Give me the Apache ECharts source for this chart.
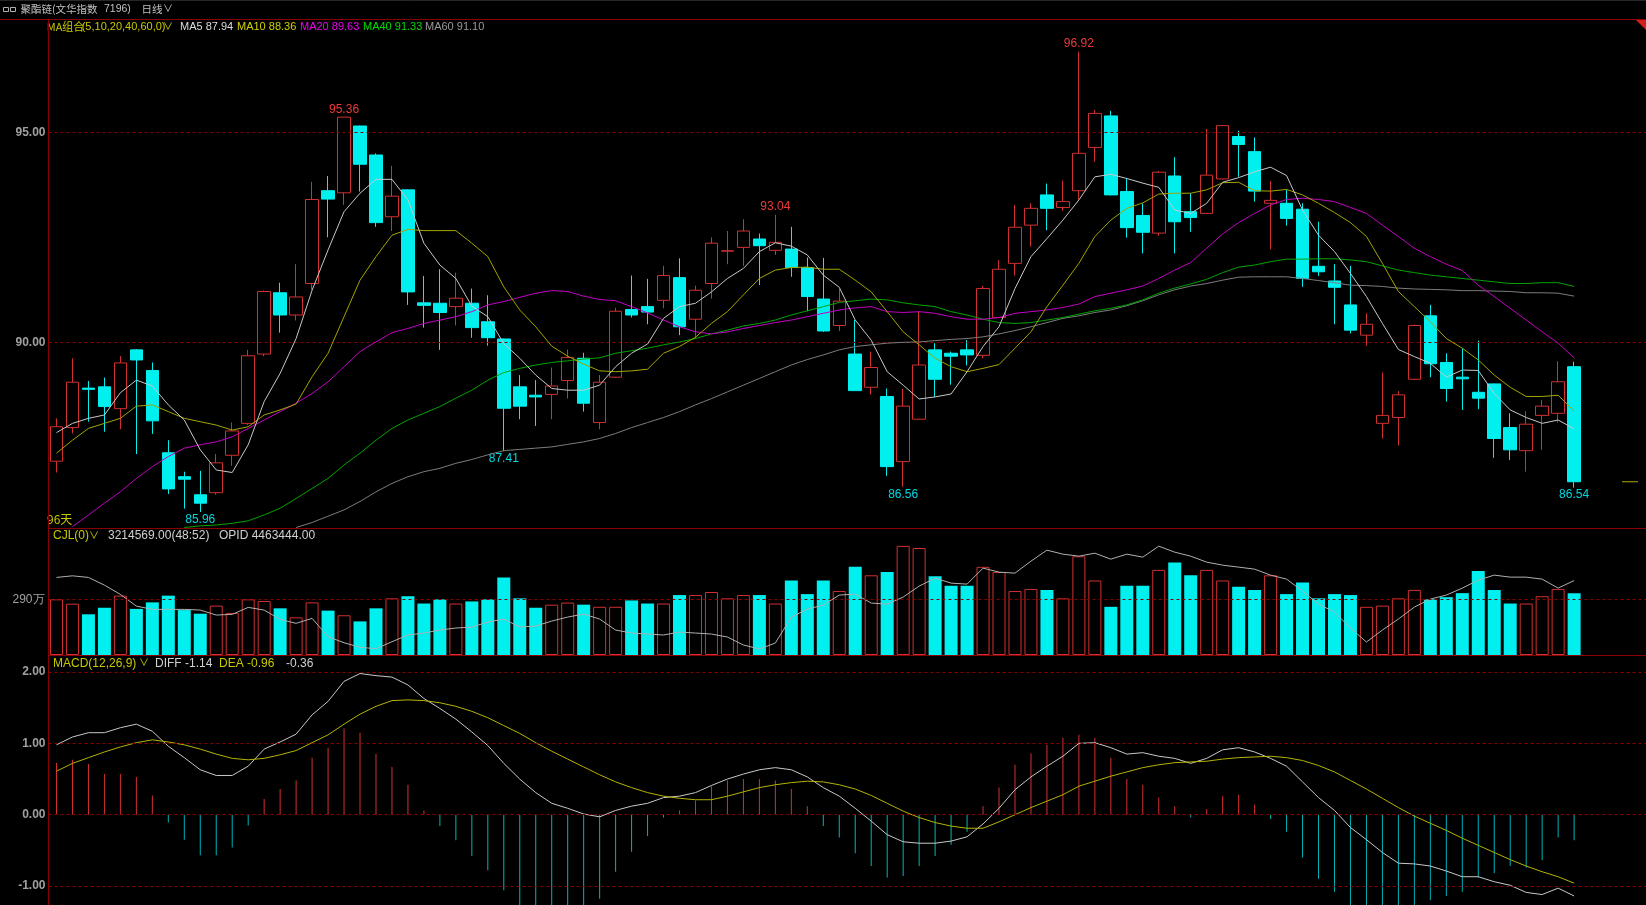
<!DOCTYPE html>
<html>
<head>
<meta charset="utf-8">
<title>聚酯链(文华指数 7196) 日线</title>
<script src="https://cdn.jsdelivr.net/npm/echarts@6/dist/echarts.min.js"></script>
<style>
html,body{margin:0;padding:0;background:#000;overflow:hidden;}
#chart{width:1646px;height:905px;}
</style>
</head>
<body>
<div id="chart"></div>
<script>
// ---------------- data ----------------
const SLOTS = 100; // 96 trading days + empty slots on the right
const categories = Array.from({length: SLOTS}, (_, i) => 'D' + (i + 1));

const opens = [87.17,87.97,88.91,88.94,88.42,89.82,89.33,87.37,86.80,86.37,
86.42,87.31,88.07,89.72,91.18,90.65,91.40,93.61,93.56,95.15,
94.46,92.99,93.63,90.94,90.93,90.85,90.93,90.49,90.08,88.94,
88.74,88.76,89.09,89.62,88.09,89.17,90.78,90.85,91.00,91.54,
90.55,91.40,92.17,92.26,92.46,92.19,92.22,91.78,91.03,90.40,
89.72,88.93,88.71,87.16,88.17,89.82,89.74,89.82,89.69,90.59,
91.88,92.79,93.51,93.21,93.61,94.64,95.39,93.59,93.02,92.60,
93.96,93.11,93.07,93.89,94.90,94.54,93.31,93.31,93.17,91.81,
91.46,90.89,90.17,88.07,88.21,89.12,90.63,89.52,89.17,88.81,
89.01,87.97,87.42,88.26,88.31,89.42];
const closes = [87.99,89.05,88.88,88.47,89.51,89.58,88.13,86.51,86.74,86.17,
87.13,87.89,89.68,91.21,90.65,91.08,93.40,93.41,95.36,94.24,
92.85,93.48,91.20,90.88,90.71,91.05,90.35,90.11,88.43,88.48,
88.70,88.96,89.64,88.55,89.05,90.74,90.65,90.72,91.59,90.37,
91.24,92.36,92.18,92.65,92.30,92.38,91.78,91.09,90.27,90.98,
88.85,89.40,87.04,88.48,89.46,89.12,89.67,89.70,91.28,91.74,
92.74,93.19,93.19,93.35,94.50,95.45,93.51,92.73,92.62,94.05,
92.87,92.97,93.98,95.16,94.71,93.60,93.38,92.95,91.52,91.68,
91.31,90.29,90.43,88.26,88.75,90.40,89.49,88.90,89.13,88.67,
87.71,87.44,88.05,88.48,89.06,86.68];
const lows = [86.90,87.83,88.11,87.87,87.93,87.34,87.82,86.39,86.04,85.96,
86.37,87.06,88.03,89.67,90.23,90.52,91.25,92.50,93.27,93.59,
92.75,92.65,90.89,90.35,89.82,90.40,90.11,89.92,87.41,88.17,
88.01,88.17,88.66,88.35,87.93,89.15,90.59,90.43,90.81,90.17,
90.09,91.04,91.86,91.82,91.36,92.08,91.56,90.74,90.25,90.27,
88.84,88.76,86.82,86.56,88.16,88.70,88.99,89.45,89.62,90.58,
91.59,92.28,92.67,93.13,93.40,94.30,93.50,92.49,92.12,92.54,
92.12,92.63,93.06,93.88,93.94,93.35,92.21,92.78,91.32,91.58,
90.43,90.21,89.92,87.71,87.54,89.10,89.17,88.59,88.39,88.41,
87.25,87.20,86.92,87.44,88.09,86.54];
const highs = [88.19,89.62,89.08,89.16,89.67,89.84,89.52,87.67,86.92,86.94,
87.34,88.09,89.82,91.23,91.42,91.86,93.82,93.96,95.36,95.16,
94.50,94.20,93.64,91.58,91.74,91.66,91.28,91.12,90.09,89.22,
89.10,89.40,89.83,89.75,89.22,90.82,91.59,91.51,91.82,92.00,
91.35,92.50,92.65,92.93,92.59,93.04,92.75,92.02,92.01,91.27,
90.53,89.78,88.90,88.89,90.73,89.98,89.78,90.05,91.34,91.96,
93.27,93.31,93.78,93.85,96.92,95.53,95.51,93.90,93.31,94.08,
94.41,93.55,95.08,95.17,95.04,94.88,93.84,93.63,93.31,92.87,
91.86,91.82,90.69,89.28,88.84,90.42,90.89,89.74,89.86,90.04,
89.02,88.31,88.36,88.63,89.55,89.54];

const ma5 = [87.85,88.07,88.19,88.27,88.80,89.10,88.96,88.51,88.15,87.44,
86.96,86.90,87.56,88.59,89.26,90.09,91.24,92.20,93.11,93.55,
93.88,93.88,93.39,92.36,91.84,91.52,90.86,90.61,89.97,89.62,
89.22,88.90,88.86,88.86,88.98,89.42,89.74,89.96,90.57,90.85,
90.93,91.20,91.52,91.76,92.16,92.37,92.29,92.08,91.60,91.31,
90.53,90.05,89.30,88.98,88.65,88.70,88.77,89.30,89.90,90.37,
91.28,92.04,92.47,92.91,93.39,93.94,94.00,93.90,93.79,93.69,
93.15,93.07,93.31,93.81,93.92,94.06,94.17,93.97,93.15,92.55,
92.16,91.64,91.09,90.45,89.83,89.66,89.50,89.17,89.34,89.33,
88.78,88.39,88.21,88.07,88.15,87.94];
const ma10 = [87.36,87.67,87.95,88.07,88.19,88.48,88.51,88.35,88.19,88.11,
88.03,87.91,87.99,88.27,88.39,88.53,89.18,89.74,90.61,91.48,
92.04,92.55,92.69,92.66,92.66,92.66,92.36,92.04,91.32,90.77,
90.37,89.91,89.67,89.48,89.32,89.30,89.32,89.36,89.74,89.90,
90.12,90.45,90.73,91.13,91.52,91.72,91.78,91.79,91.74,91.74,
91.48,91.20,90.73,90.25,89.94,89.62,89.42,89.30,89.38,89.47,
89.86,90.25,90.85,91.36,91.88,92.52,92.91,93.19,93.32,93.53,
93.55,93.55,93.63,93.80,93.81,93.61,93.60,93.64,93.51,93.31,
93.09,92.85,92.52,91.88,91.21,90.85,90.49,90.09,89.86,89.58,
89.22,88.93,88.71,88.71,88.74,88.36];
const ma20 = ['-',85.61,85.89,86.17,86.44,86.76,87.04,87.28,87.48,87.56,
87.63,87.75,87.95,88.15,88.35,88.55,88.78,89.06,89.42,89.78,
90.01,90.23,90.33,90.45,90.53,90.61,90.73,90.89,90.97,91.07,
91.17,91.23,91.21,91.10,91.02,90.99,90.85,90.70,90.53,90.37,
90.25,90.20,90.25,90.33,90.40,90.47,90.53,90.61,90.69,90.77,
90.82,90.85,90.73,90.71,90.73,90.69,90.61,90.55,90.55,90.59,
90.69,90.73,90.77,90.83,90.91,91.09,91.17,91.25,91.34,91.52,
91.72,91.90,92.24,92.58,92.85,93.07,93.27,93.40,93.43,93.40,
93.35,93.21,93.07,92.79,92.52,92.24,92.04,91.86,91.71,91.36,
91.09,90.81,90.53,90.25,89.98,89.63];
const ma40 = ['-','-','-','-','-','-','-','-',85.59,85.63,
85.65,85.69,85.75,85.89,86.05,86.28,86.52,86.76,87.08,87.36,
87.67,87.95,88.15,88.31,88.47,88.67,88.86,89.10,89.28,89.38,
89.46,89.52,89.56,89.60,89.63,89.74,89.80,89.86,89.94,90.01,
90.09,90.20,90.29,90.39,90.45,90.53,90.65,90.75,90.85,90.95,
90.99,91.03,91.01,90.94,90.89,90.85,90.73,90.65,90.55,90.47,
90.45,90.47,90.53,90.59,90.67,90.75,90.81,90.89,91.01,91.17,
91.29,91.39,91.50,91.66,91.79,91.84,91.92,91.98,91.98,91.99,
91.99,91.96,91.92,91.82,91.72,91.66,91.60,91.56,91.52,91.48,
91.44,91.40,91.40,91.42,91.42,91.33];
const ma60 = ['-','-','-','-','-','-','-','-','-','-',
'-','-','-','-','-',85.59,85.71,85.86,86.01,86.21,
86.44,86.64,86.80,86.92,87.00,87.12,87.21,87.32,87.42,87.45,
87.48,87.51,87.57,87.63,87.71,87.83,87.97,88.09,88.21,88.35,
88.51,88.66,88.82,88.98,89.14,89.30,89.46,89.59,89.70,89.82,
89.90,89.94,89.98,90.00,90.01,90.04,90.07,90.09,90.13,90.20,
90.28,90.37,90.47,90.57,90.63,90.71,90.77,90.87,90.99,91.13,
91.25,91.34,91.40,91.48,91.55,91.56,91.56,91.56,91.52,91.47,
91.42,91.36,91.35,91.33,91.29,91.27,91.26,91.25,91.23,91.23,
91.22,91.21,91.18,91.18,91.17,91.10];

// volume in 万 (10k lots)
const volumes = [290,267,212,246,309,240,274,309,234,215,
257,219,290,281,243,196,274,231,207,175,
243,295,306,268,290,268,279,290,404,295,
246,262,273,262,251,251,284,268,268,312,
312,328,295,312,312,268,388,317,388,333,
459,415,432,568,557,410,361,361,459,432,
333,344,339,295,514,388,251,361,361,443,
481,415,443,388,355,339,415,317,377,295,
317,312,251,257,295,339,290,301,322,437,
339,268,268,306,344,321.4569];
// open interest (OPID)
const openInterest = [4483200,4493200,4483200,4435300,4377500,4304700,4284200,4284200,4284200,4279900,
4248800,4253100,4296600,4279900,4222000,4197100,4228200,4113800,4076500,4047900,
4039200,4082700,4124400,4136800,4155500,4167900,4174100,4205200,4223900,4174100,
4180400,4211400,4236300,4255000,4223900,4155500,4136800,4130600,4124400,4143000,
4136800,4130600,4111900,4062200,4037300,4074600,4236300,4286100,4311000,4373100,
4379400,4323400,4317200,4360700,4429100,4478900,4447800,4441500,4541100,4516200,
4510000,4584600,4653000,4628100,4615700,4634300,4597000,4628100,4609500,4677900,
4640600,4615700,4578400,4559700,4547300,4534800,4497500,4472600,4398000,4317200,
4267400,4167900,4080800,4155500,4223900,4298500,4348300,4373100,4416700,4466400,
4497500,4485100,4485100,4472600,4416700,4463444];

const diff = [0.98,1.09,1.15,1.15,1.22,1.27,1.17,0.96,0.80,0.63,
0.55,0.55,0.68,0.92,1.02,1.13,1.40,1.59,1.87,1.98,
1.95,1.93,1.82,1.63,1.49,1.34,1.16,0.97,0.72,0.50,
0.31,0.16,0.09,0.01,-0.03,0.06,0.12,0.16,0.24,0.26,
0.31,0.41,0.50,0.57,0.63,0.66,0.63,0.53,0.38,0.26,
0.09,-0.09,-0.28,-0.38,-0.40,-0.40,-0.37,-0.31,-0.13,0.09,
0.35,0.53,0.68,0.82,1.00,1.01,0.94,0.85,0.87,0.82,
0.79,0.72,0.79,0.91,0.94,0.88,0.79,0.68,0.46,0.24,
0.06,-0.18,-0.35,-0.53,-0.68,-0.69,-0.72,-0.79,-0.87,-0.87,
-0.94,-0.99,-1.09,-1.12,-1.03,-1.14];
const dea = [0.61,0.72,0.80,0.88,0.95,1.01,1.05,1.02,0.98,0.92,
0.85,0.79,0.77,0.79,0.84,0.90,1.01,1.12,1.27,1.41,
1.52,1.60,1.61,1.60,1.57,1.52,1.45,1.36,1.25,1.14,
1.01,0.89,0.78,0.67,0.56,0.46,0.38,0.31,0.26,0.23,
0.21,0.21,0.26,0.32,0.38,0.42,0.45,0.47,0.46,0.42,
0.36,0.27,0.16,0.05,-0.04,-0.11,-0.16,-0.19,-0.19,-0.10,
0.00,0.10,0.19,0.28,0.40,0.47,0.54,0.60,0.66,0.70,
0.73,0.74,0.75,0.78,0.80,0.81,0.82,0.80,0.76,0.69,
0.60,0.48,0.36,0.23,0.10,-0.02,-0.12,-0.22,-0.33,-0.43,
-0.53,-0.63,-0.72,-0.80,-0.87,-0.96];
const macdHist = [0.73,0.77,0.71,0.57,0.57,0.53,0.27,-0.11,-0.35,-0.57,
-0.57,-0.46,-0.15,0.22,0.36,0.48,0.80,0.94,1.21,1.15,
0.85,0.67,0.42,0.06,-0.16,-0.36,-0.58,-0.78,-1.06,-1.28,
-1.40,-1.46,-1.38,-1.32,-1.18,-0.80,-0.52,-0.30,-0.04,0.06,
0.20,0.40,0.48,0.50,0.50,0.48,0.36,0.12,-0.16,-0.32,
-0.54,-0.72,-0.88,-0.86,-0.72,-0.58,-0.42,-0.24,0.12,0.38,
0.70,0.86,0.98,1.08,1.12,1.08,0.80,0.50,0.42,0.24,
0.12,-0.04,0.08,0.26,0.28,0.14,-0.06,-0.24,-0.60,-0.90,
-1.08,-1.32,-1.42,-1.52,-1.56,-1.34,-1.20,-1.14,-1.08,-0.88,
-0.82,-0.72,-0.74,-0.64,-0.32,-0.36];

const highMarks = [18, 45, 64];
const lowMarks = [9, 28, 53, 95];
const priceTicks = [90, 95];
const volumeTicks = [290];
const macdTicks = [-1, 0, 1, 2];

// ---------------- chart ----------------
const RED = '#cf3030', CYAN = '#00f0f0', GRIDRED = '#8a0000';
const FONT = '"Liberation Sans", Arial, "Noto Sans CJK SC", sans-serif';
const CJK = '"Noto Sans CJK SC", "Liberation Sans", sans-serif';
const last = opens.length - 1;

const candleData = opens.map((o, i) => [o, closes[i], lows[i], highs[i]]);
const isUp = i => closes[i] >= opens[i];

function dashLines(vals) {
  return {
    silent: true, symbol: ['none', 'none'],
    label: {show: false},
    lineStyle: {color: GRIDRED, type: [3, 3], width: 1},
    emphasis: {disabled: true},
    data: vals.map(v => ({yAxis: v}))
  };
}
function maLine(name, data, color) {
  return {name, type: 'line', xAxisIndex: 0, yAxisIndex: 0, data: data,
    symbol: 'none', showSymbol: false, lineStyle: {color, width: 1}, z: 5, silent: true};
}
function txt(x, y, text, fill, size, family, weight) {
  return {type: 'text', x, y, silent: true, style: {text, fill,
    font: (weight || 'normal') + ' ' + size + 'px ' + (family || FONT),
    textAlign: 'left', textVerticalAlign: 'middle', align: 'left', verticalAlign: 'middle'}};
}

const chart = echarts.init(document.getElementById('chart'), null, {renderer: 'canvas'});
const L = 48.5, W = 1600;
const axisLineStyle = {show: true, onZero: false, lineStyle: {color: GRIDRED, width: 1}};

const lastLine = categories.map((c, i) => i >= SLOTS - 2 ? closes[last] : '-');

const option = {
  backgroundColor: '#000',
  animation: false,
  grid: [
    {left: L, top: 19, width: W, height: 509.5},
    {left: L, top: 528.5, width: W, height: 126.5},
    {left: L, top: 655, width: W, height: 250}
  ],
  xAxis: [0, 1, 2].map(g => ({
    type: 'category', gridIndex: g, data: categories, boundaryGap: true,
    axisLine: g < 2 ? axisLineStyle : {show: false},
    axisTick: {show: false}, axisLabel: {show: false}, splitLine: {show: false}
  })),
  yAxis: [
    {gridIndex: 0, min: 85.567, max: 97.698, axisLine: axisLineStyle, axisTick: {show: false},
      splitLine: {show: false},
      axisLabel: {customValues: priceTicks, formatter: v => v.toFixed(2), color: '#a0a0a0',
        fontSize: 12, fontWeight: 'bold', fontFamily: 'Liberation Sans', margin: 3}},
    {gridIndex: 1, min: 0, max: 658.6, axisLine: axisLineStyle, axisTick: {show: false},
      splitLine: {show: false},
      axisLabel: {customValues: volumeTicks, formatter: v => v + '万', color: '#a0a0a0',
        fontSize: 12, fontFamily: 'Liberation Sans', margin: 4}},
    {gridIndex: 1, min: 4000000, max: 4788000, show: false},
    {gridIndex: 2, min: -1.2665, max: 2.2398, axisLine: axisLineStyle, axisTick: {show: false},
      splitLine: {show: false},
      axisLabel: {customValues: macdTicks, formatter: v => v.toFixed(2), color: '#a0a0a0',
        fontSize: 12, fontWeight: 'bold', fontFamily: 'Liberation Sans', margin: 3}}
  ],
  series: [
    {
      name: 'K', type: 'candlestick', xAxisIndex: 0, yAxisIndex: 0,
      data: candleData, barWidth: 13, silent: true,
      itemStyle: {color: 'rgba(0,0,0,0)', color0: CYAN, borderColor: RED, borderColor0: CYAN, borderWidth: 1},
      markLine: dashLines(priceTicks),
      markPoint: {
        silent: true, symbol: 'rect', symbolSize: 1,
        itemStyle: {color: 'rgba(0,0,0,0)'},
        label: {show: true, fontSize: 12, fontFamily: FONT, formatter: p => Number(p.value).toFixed(2)},
        data: highMarks.map(i => ({coord: [categories[i], highs[i]], value: highs[i],
                label: {position: 'top', distance: 1, color: '#ec3a3a'}}))
          .concat(lowMarks.map(i => ({coord: [categories[i], lows[i]], value: lows[i],
                label: {position: 'bottom', distance: 1, color: '#00d8e0'}})))
      },
      z: 3
    },
    maLine('MA60', ma60, '#7c7c7c'),
    maLine('MA40', ma40, '#00a400'),
    maLine('MA20', ma20, '#c400c4'),
    maLine('MA10', ma10, '#a4a400'),
    maLine('MA5', ma5, '#c8c8c8'),
    {
      name: 'last', type: 'line', xAxisIndex: 0, yAxisIndex: 0, symbol: 'none', silent: true,
      data: lastLine, lineStyle: {color: '#a8a800', width: 1}
    },
    {
      name: 'CJL', type: 'bar', xAxisIndex: 1, yAxisIndex: 1, barWidth: 13, silent: true,
      data: volumes.map((v, i) => ({value: v, itemStyle: isUp(i)
        ? {color: 'rgba(0,0,0,0)', borderColor: RED, borderWidth: 1}
        : {color: CYAN}})),
      markLine: dashLines(volumeTicks)
    },
    {
      name: 'OPID', type: 'line', xAxisIndex: 1, yAxisIndex: 2, symbol: 'none', silent: true,
      data: openInterest, lineStyle: {color: '#b0b0b0', width: 1}, z: 4
    },
    {
      name: 'MACD', type: 'bar', xAxisIndex: 2, yAxisIndex: 3, barWidth: 1, silent: true,
      data: macdHist.map(v => ({value: v, itemStyle: {color: v >= 0 ? '#d43030' : '#00b4b8'}})),
      markLine: dashLines(macdTicks)
    },
    {
      name: 'DIFF', type: 'line', xAxisIndex: 2, yAxisIndex: 3, symbol: 'none', silent: true,
      data: diff, lineStyle: {color: '#c8c8c8', width: 1}, z: 4
    },
    {
      name: 'DEA', type: 'line', xAxisIndex: 2, yAxisIndex: 3, symbol: 'none', silent: true,
      data: dea, lineStyle: {color: '#b4b400', width: 1}, z: 4
    }
  ],
  graphic: [
    {type: 'line', silent: true, shape: {x1: 0, y1: 19.5, x2: 1646, y2: 19.5}, style: {stroke: GRIDRED, lineWidth: 1}},
    {type: 'line', silent: true, shape: {x1: 0, y1: 0.5, x2: 1646, y2: 0.5}, style: {stroke: '#26262c', lineWidth: 1}},
    {type: 'rect', silent: true, shape: {x: 3.5, y: 7.5, width: 5, height: 4}, style: {stroke: '#b0b0b0', fill: null, lineWidth: 1}},
    {type: 'rect', silent: true, shape: {x: 10.5, y: 7.5, width: 5, height: 4}, style: {stroke: '#b0b0b0', fill: null, lineWidth: 1}},
    {type: 'polygon', silent: true, shape: {points: [[1636, 20], [1646, 20], [1646, 30]]}, style: {fill: '#d41e1e'}},
    txt(20.5, 9.5, '聚酯链(文华指数', '#c0c0c0', 10.5, CJK),
    txt(104, 9.5, '7196)', '#c0c0c0', 10.5),
    txt(141.5, 9.5, '日线', '#c0c0c0', 10.5, CJK),
    txt(163, 9.5, '∨', '#c0c0c0', 10),
    txt(46.7, 27, 'MA组合', '#c8c800', 11, CJK),
    txt(81.7, 27, '(5,10,20,40,60,0)', '#c8c800', 11),
    txt(163, 27, '∨', '#c8c800', 10),
    txt(180, 27, 'MA5 ' + ma5[last].toFixed(2), '#dcdcdc', 11),
    txt(237, 27, 'MA10 ' + ma10[last].toFixed(2), '#d0d000', 11),
    txt(300, 27, 'MA20 ' + ma20[last].toFixed(2), '#f000f0', 11),
    txt(363, 27, 'MA40 ' + ma40[last].toFixed(2), '#00dc00', 11),
    txt(425, 27, 'MA60 ' + ma60[last].toFixed(2), '#9a9a9a', 11),
    txt(47, 519, '96天', '#c8c800', 12, CJK),
    txt(53, 536, 'CJL(0)', '#c8c800', 12),
    txt(89, 536, '∨', '#c8c800', 10),
    txt(108, 536, (volumes[last] * 10000).toFixed(2) + '(48:52)', '#d0d0d0', 12),
    txt(219, 536, 'OPID ' + openInterest[last].toFixed(2), '#d0d0d0', 12),
    txt(53, 663.5, 'MACD(12,26,9)', '#c8c800', 12),
    txt(139, 663.5, '∨', '#c8c800', 10),
    txt(155, 663.5, 'DIFF ' + diff[last].toFixed(2), '#d0d0d0', 12),
    txt(219, 663.5, 'DEA ' + dea[last].toFixed(2), '#c8c800', 12),
    txt(286, 663.5, macdHist[last].toFixed(2), '#d0d0d0', 12)
  ]
};
chart.setOption(option);
</script>
</body>
</html>
